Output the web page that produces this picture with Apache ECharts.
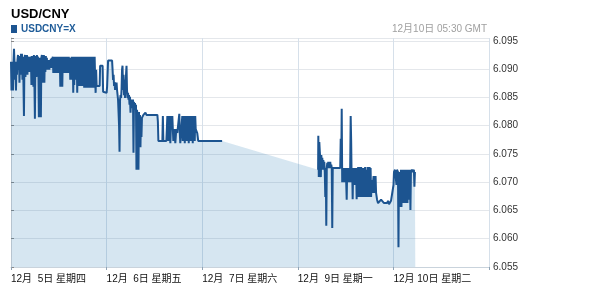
<!DOCTYPE html>
<html>
<head>
<meta charset="utf-8">
<script src="https://cdn.jsdelivr.net/npm/echarts@6/dist/echarts.min.js"></script>
<style>
html,body{margin:0;padding:0;background:#fff;}
#chart{width:593px;height:304px;}
</style>
</head>
<body>
<div id="chart"></div>
<script>
// Hours since 12月5日 00:00 GMT (trading-time axis, Sunday skipped) and USD/CNY prices
const titleText = 'USD/CNY';
const seriesName = 'USDCNY=X';
const stampText = '12月10日 05:30 GMT';
const tickLabels = ['12月  5日 星期四', '12月  6日 星期五', '12月  7日 星期六', '12月  9日 星期一', '12月 10日 星期二'];

const sessionA = [
 [0,6.0913],[0.125,6.0862],[0.25,6.0913],[0.375,6.0909],[0.5,6.0862],[0.625,6.0913],[0.75,6.0936],[0.875,6.0913],
 [1.0,6.0881],[1.125,6.0913],[1.25,6.0862],[1.375,6.0911],[1.5,6.0890],[1.625,6.0916],[1.75,6.0925],[1.875,6.0899],
 [2.0,6.0923],[2.125,6.0876],[2.25,6.0920],[2.375,6.0890],[2.5,6.0927],[2.625,6.0920],[2.75,6.0927],[2.875,6.0881],
 [3.0,6.0922],[3.125,6.0876],[3.25,6.0817],[3.375,6.0916],[3.5,6.0925],[3.625,6.0886],[3.75,6.0923],[3.875,6.0899],
 [4.0,6.0925],[4.125,6.0890],[4.25,6.0922],[4.375,6.0902],[4.5,6.0920],[4.625,6.0895],[4.75,6.0922],[4.875,6.0907],
 [5.0,6.0922],[5.125,6.0872],[5.25,6.0923],[5.375,6.0885],[5.5,6.0922],[5.625,6.0869],[5.75,6.0925],[5.875,6.0877],
 [6.0,6.0812],[6.125,6.0916],[6.25,6.0923],[6.375,6.0886],[6.5,6.0925],[6.625,6.0890],[6.75,6.0922],[6.875,6.0899],
 [7.0,6.0815],[7.125,6.0920],[7.25,6.0923],[7.375,6.0867],[7.5,6.0815],[7.625,6.0920],[7.75,6.0925],[7.875,6.0876],
 [8.0,6.0923],[8.125,6.0885],[8.25,6.0925],[8.375,6.0876],[8.5,6.0922],[8.625,6.0895],[8.75,6.0923],[8.875,6.0902],
 [9.0,6.0920],[9.125,6.0899],[9.25,6.0916],[9.375,6.0900],[9.5,6.0913],[9.625,6.0899],[9.75,6.0916],[9.875,6.0906],
 [10.0,6.0918],[10.125,6.0902],[10.25,6.0920],[10.375,6.0909],[10.5,6.0922],
 [10.625,6.0893],[10.75,6.0922],[10.875,6.0893],[11.0,6.0922],[11.125,6.0893],[11.25,6.0922],[11.375,6.0895],[11.5,6.0922],
 [11.625,6.0893],[11.75,6.0922],[11.875,6.0893],[12.0,6.0920],[12.125,6.0893],[12.25,6.0922],[12.375,6.0869],[12.5,6.0922],
 [12.625,6.0893],[12.75,6.0922],[12.875,6.0869],[13.0,6.0922],[13.125,6.0893],[13.25,6.0922],[13.375,6.0893],[13.5,6.0920],
 [13.625,6.0893],[13.75,6.0922],[13.875,6.0893],[14.0,6.0922],[14.125,6.0893],[14.25,6.0922],[14.375,6.0893],[14.5,6.0922],
 [14.625,6.0893],[14.75,6.0920],[14.875,6.0881],[15.0,6.0920],[15.125,6.0890],[15.25,6.0922],[15.375,6.0881],[15.5,6.0922],
 [15.625,6.0858],[15.75,6.0916],[15.875,6.0872],[16.0,6.0922],[16.125,6.0890],[16.25,6.0920],[16.375,6.0881],[16.5,6.0922],
 [16.625,6.0858],[16.75,6.0920],[16.875,6.0870],[17.0,6.0922],[17.125,6.0881],[17.25,6.0922],[17.375,6.0870],[17.5,6.0922],
 [17.625,6.0890],[17.75,6.0920],[17.875,6.0870],[18.0,6.0922],[18.125,6.0881],[18.25,6.0922],[18.375,6.0867],[18.5,6.0922],
 [18.625,6.0885],[18.75,6.0922],[18.875,6.0867],[19.0,6.0922],[19.125,6.0881],[19.25,6.0920],[19.375,6.0867],[19.5,6.0922],
 [19.625,6.0877],[19.75,6.0922],[19.875,6.0867],[20.0,6.0922],[20.125,6.0872],[20.25,6.0922],[20.375,6.0867],[20.5,6.0916],
 [20.625,6.0877],[20.75,6.0922],[20.875,6.0867],[21.0,6.0922],[21.125,6.0881],[21.25,6.0858],[21.375,6.0899],[21.5,6.0870],
 [21.625,6.0867],[22.0,6.0867],[22.25,6.0870],[22.375,6.0906],[23.0,6.0906],[23.125,6.0860],[23.25,6.0858],[24.0,6.0858],
 [24.125,6.0869],[24.25,6.0869],[24.375,6.0915],[25.375,6.0915],[25.5,6.0899],[25.625,6.0881],[25.75,6.0890],[25.875,6.0870],
 [26.0,6.0877],[26.125,6.0863],[26.25,6.0874],[26.375,6.0867],[26.5,6.0876],[26.625,6.0863],[26.75,6.0860],[26.875,6.0846],
 [27.0,6.0849],[27.125,6.0801],[27.25,6.0754],[27.375,6.0846],[27.5,6.0854],[27.625,6.0849],[27.75,6.0863],[27.875,6.0899],
 [28.0,6.0906],[28.125,6.0863],[28.25,6.0890],[28.375,6.0854],[28.5,6.0881],[28.625,6.0849],[28.75,6.0872],[28.875,6.0890],
 [29.0,6.0906],[29.125,6.0863],[29.25,6.0849],[29.375,6.0858],[29.5,6.0846],[29.625,6.0854],[29.75,6.0837],[29.875,6.0851],
 [30.0,6.0823],[30.125,6.0846],[30.25,6.0837],[30.375,6.0842],[30.5,6.0831],[30.625,6.0846],[30.75,6.0752],[30.875,6.0842],
 [31.0,6.0831],[31.125,6.0840],[31.25,6.0828],[31.375,6.0837],[31.5,6.0722],[31.625,6.0828],[31.75,6.0831],[31.875,6.0810],
 [32.0,6.0722],[32.125,6.0824],[32.25,6.0792],[32.375,6.0819],[32.5,6.0762],[32.625,6.0814],[32.75,6.0780],[32.875,6.0814],
 [33.0,6.0814],[33.25,6.0819],[33.5,6.0821],[33.75,6.0823],[34.0,6.0819],[36.75,6.0819],[36.875,6.0807],[37.0,6.0773],
 [38.0,6.0773],[38.125,6.0817],[38.25,6.0773],[39.0,6.0773],[39.125,6.0794],[39.25,6.0817],[39.375,6.0794],[39.5,6.0773],
 [39.625,6.0794],[39.75,6.0817],[39.875,6.0794],[40.0,6.0769],[40.125,6.0794],[40.25,6.0817],[40.375,6.0794],[40.5,6.0817],
 [40.625,6.0794],[40.75,6.0773],[41.0,6.0794],[41.25,6.0769],[41.5,6.0794],[41.75,6.0787],[42.125,6.0787],[42.25,6.0821],
 [42.375,6.0787],[42.5,6.0769],[42.875,6.0769],[43.0,6.0817],[43.125,6.0773],[43.25,6.0817],[43.375,6.0794],[43.5,6.0817],
 [43.625,6.0769],[43.75,6.0817],[43.875,6.0794],[44.0,6.0817],[44.125,6.0773],[44.25,6.0817],[44.375,6.0794],[44.5,6.0817],
 [44.625,6.0769],[44.75,6.0817],[44.875,6.0794],[45.0,6.0817],[45.125,6.0773],[45.25,6.0817],[45.375,6.0794],[45.5,6.0817],
 [45.625,6.0769],[45.75,6.0817],[45.875,6.0794],[46.0,6.0817],[46.125,6.0773],[46.25,6.0817],[46.375,6.0794],[46.5,6.0794],
 [46.75,6.0787],[47.0,6.0773],[53.0,6.0773]
];

const sessionB = [
 [77.1,6.0722],
 [77.15,6.0782],[77.275,6.0709],[77.4,6.0771],[77.525,6.0754],[77.65,6.0739],[77.775,6.0709],[77.9,6.0748],[78.025,6.0731],
 [78.15,6.0743],[78.275,6.0722],[78.4,6.0739],[78.525,6.0725],[78.65,6.0736],[78.775,6.0718],[78.9,6.0674],[79.025,6.0725],
 [79.15,6.0623],[79.275,6.0725],[79.4,6.0734],[79.525,6.0725],[79.65,6.0736],[79.775,6.0725],[79.9,6.0734],[80.025,6.0727],
 [80.15,6.0736],[80.275,6.0725],[80.4,6.0731],[80.525,6.0725],[80.65,6.0619],[80.775,6.0725],[80.9,6.0722],[82.65,6.0725],
 [82.775,6.0777],[82.9,6.0725],[83.025,6.0830],[83.15,6.0700],[83.275,6.0725],[83.4,6.0700],[83.525,6.0725],[83.65,6.0700],
 [83.775,6.0725],[83.9,6.0700],[84.025,6.0725],[84.15,6.0700],[84.275,6.0669],[84.4,6.0725],[84.525,6.0700],[84.65,6.0725],
 [84.775,6.0700],[84.9,6.0725],[85.025,6.0700],[85.15,6.0725],[85.275,6.0817],[85.4,6.0771],[85.525,6.0700],[85.65,6.0725],
 [85.775,6.0670],[85.9,6.0725],[86.025,6.0700],[86.15,6.0725],[86.275,6.0695],[86.4,6.0725],[86.525,6.0700],[86.65,6.0722],
 [86.775,6.0670],[86.9,6.0725],[87.025,6.0700],[87.15,6.0727],[87.275,6.0674],[87.4,6.0727],[87.525,6.0674],[87.65,6.0725],
 [87.775,6.0674],[87.9,6.0727],[88.025,6.0686],[88.15,6.0725],[88.275,6.0674],[88.4,6.0725],[88.525,6.0674],[88.65,6.0725],
 [88.775,6.0677],[88.9,6.0727],[89.025,6.0674],[89.15,6.0722],[89.275,6.0686],[89.4,6.0674],[89.525,6.0727],[89.65,6.0674],
 [89.775,6.0727],[89.9,6.0674],[90.025,6.0727],[90.15,6.0674],[90.275,6.0725],[90.4,6.0674],[90.525,6.0704],[90.65,6.0681],
 [90.9,6.0681],[91.025,6.0711],[91.15,6.0681],[91.4,6.0681],[91.525,6.0711],[91.65,6.0681],[91.9,6.0669],[92.15,6.0663],
 [92.65,6.0663],[92.9,6.0669],[93.4,6.0669],[93.65,6.0663],[94.4,6.0663],[94.65,6.0667],[94.9,6.0661],[95.15,6.0661],
 [95.4,6.0667],[95.9,6.0667],[96.025,6.0695],[96.15,6.0718],[96.4,6.0722],[96.65,6.0720],[96.775,6.0695],[96.9,6.0722],
 [97.15,6.0718],[97.275,6.0585],[97.4,6.0718],[97.525,6.0656],[97.65,6.0718],[97.775,6.0669],[97.9,6.0722],[98.025,6.0656],
 [98.15,6.0718],[98.275,6.0686],[98.4,6.0722],[98.525,6.0663],[98.65,6.0722],[98.775,6.0677],[98.9,6.0718],[99.025,6.0663],
 [99.15,6.0722],[99.275,6.0686],[99.4,6.0718],[99.525,6.0663],[99.65,6.0722],[99.775,6.0700],[99.9,6.0718],[100.025,6.0669],
 [100.15,6.0722],[100.275,6.0651],[100.4,6.0718],[100.65,6.0722],[100.9,6.0718],[101.15,6.0722],[101.275,6.0692],[101.4,6.0718],
 [101.5,6.0718]
];

const FONT = '"Liberation Sans", Arial, "Noto Sans CJK SC", sans-serif';
const LINE = '#1c5490';

const chart = echarts.init(document.getElementById('chart'), null, {renderer: 'canvas'});
chart.setOption({
  animation: false,
  backgroundColor: '#ffffff',
  grid: {left: 11, right: 104, top: 38, bottom: 37},
  graphic: [
    {type: 'text', left: 11, top: 8, style: {text: titleText, font: 'bold 13px ' + FONT, fill: '#000'}},
    {type: 'rect', left: 11, top: 25, shape: {width: 6, height: 8}, style: {fill: LINE}},
    {type: 'text', left: 21, top: 24, style: {text: seriesName, font: 'bold 10px ' + FONT, fill: '#1f5c99'}},
    {type: 'text', right: 106, top: 24, style: {text: stampText, font: '10px ' + FONT, fill: '#a0a0a0'}}
  ],
  xAxis: {
    type: 'value', min: 0, max: 120, interval: 24,
    axisLine: {show: true, lineStyle: {color: '#c9d3dc'}},
    axisTick: {show: true, length: 3, lineStyle: {color: '#8fa3b5'}},
    axisLabel: {
      formatter: function (v) { return tickLabels[Math.round(v / 24)] || ''; },
      align: 'left', margin: 7, color: '#111', fontSize: 10, fontFamily: FONT
    },
    splitLine: {show: true, lineStyle: {color: '#d6e0ea', width: 1}}
  },
  yAxis: {
    type: 'value', position: 'right', min: 6.055, max: 6.0955, interval: 0.005,
    axisLine: {show: true, lineStyle: {color: '#c9ced4'}},
    axisTick: {show: true, length: 3, lineStyle: {color: '#888'}},
    axisLabel: {
      formatter: function (v) { return v > 6.09501 ? '' : v.toFixed(3); },
      margin: 4, color: '#333', fontSize: 10, fontFamily: FONT
    },
    splitLine: {show: true, lineStyle: {color: '#e4e7eb', width: 1}}
  },
  series: [
    {
      type: 'line', data: sessionA.concat(sessionB), showSymbol: false, symbol: 'none',
      lineStyle: {width: 0, opacity: 0},
      areaStyle: {color: 'rgba(28,118,178,0.18)', opacity: 1, origin: 'start'},
      z: 1, silent: true
    },
    {
      type: 'line', data: sessionA, showSymbol: false, symbol: 'none',
      lineStyle: {width: 2, color: LINE}, z: 3, silent: true
    },
    {
      type: 'line', data: sessionB, showSymbol: false, symbol: 'none',
      lineStyle: {width: 2, color: LINE}, z: 3, silent: true
    }
  ]
});
</script>
</body>
</html>
